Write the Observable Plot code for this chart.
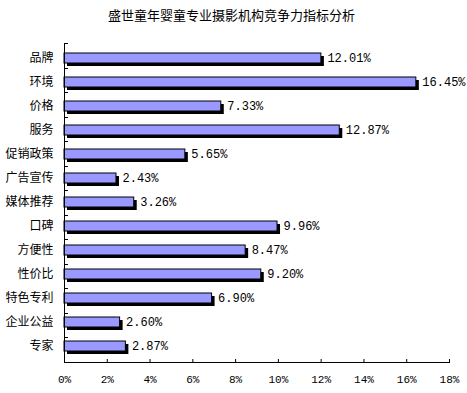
<!DOCTYPE html>
<html>
<head>
<meta charset="utf-8">
<script src="https://cdn.jsdelivr.net/npm/d3@7"></script>
<script src="https://cdn.jsdelivr.net/npm/@observablehq/plot@0.6"></script>
<style>
  html, body { margin: 0; padding: 0; background: #fff; }
  #title { width: 467px; height: 30px; line-height: 30px; text-align: center; font-family: "Noto Sans CJK SC", sans-serif; font-size: 13px; color: #000; padding-right: 4px; box-sizing: border-box; }
  svg { display: block; }
</style>
</head>
<body>
<div id="title">盛世童年婴童专业摄影机构竞争力指标分析</div>
<div id="chart"></div>
<script>
const categories = ["品牌", "环境", "价格", "服务", "促销政策", "广告宣传", "媒体推荐", "口碑", "方便性", "性价比", "特色专利", "企业公益", "专家"];
const values = [12.01, 16.45, 7.33, 12.87, 5.65, 2.43, 3.26, 9.96, 8.47, 9.20, 6.90, 2.60, 2.87];
const xTicks = [0, 2, 4, 6, 8, 10, 12, 14, 16, 18];

const data = categories.map((c, i) => ({cat: c, value: values[i]}));
const pad = 0.58;

const boundaryTicks = (index, scales, vals, dims) => {
  const {marginTop, marginBottom, marginLeft, height} = dims;
  const n = categories.length;
  const step = (height - marginTop - marginBottom) / n;
  const g = d3.create("svg:g").attr("stroke", "black").attr("stroke-width", 1);
  for (let i = 0; i < n; i++) {
    const y = Math.round(marginTop + i * step) + 0.5;
    g.append("line").attr("x1", marginLeft).attr("x2", marginLeft + 4).attr("y1", y).attr("y2", y);
  }
  return g.node();
};

const chart = Plot.plot({
  width: 467,
  height: 363,
  marginTop: 13,
  marginBottom: 31,
  marginLeft: 64,
  marginRight: 18,
  style: {background: "#fff", color: "#000"},
  x: {domain: [0, 18], label: null},
  y: {domain: categories, paddingInner: pad, paddingOuter: pad / 2, label: null},
  marks: [
    Plot.barX(data, {x: "value", y: "cat", fill: "black", dx: 3, dy: 3}),
    Plot.barX(data, {x: "value", y: "cat", fill: "#9999ff", stroke: "black", strokeWidth: 1}),
    Plot.text(data, {x: "value", y: "cat", text: d => d.value.toFixed(2) + "%", textAnchor: "start", dx: 6, fontFamily: "Liberation Mono, monospace", fontSize: 12, letterSpacing: "-0.5px", fill: "black"}),
    Plot.ruleX([0], {stroke: "black"}),
    Plot.frame({anchor: "bottom", stroke: "black"}),
    Plot.ruleX(xTicks, {x: d => d, insetTop: 316, stroke: "black"}),
    boundaryTicks,
    Plot.axisX({ticks: xTicks, tickFormat: d => d + "%", tickSize: 0, tickPadding: 13, fontFamily: "Liberation Mono, monospace", fontSize: 11, letterSpacing: "-0.5px"}),
    Plot.axisY({tickSize: 0, tickPadding: 11, fontFamily: "Noto Sans CJK SC, sans-serif", fontSize: 12})
  ]
});
document.getElementById("chart").appendChild(chart);
</script>
</body>
</html>
